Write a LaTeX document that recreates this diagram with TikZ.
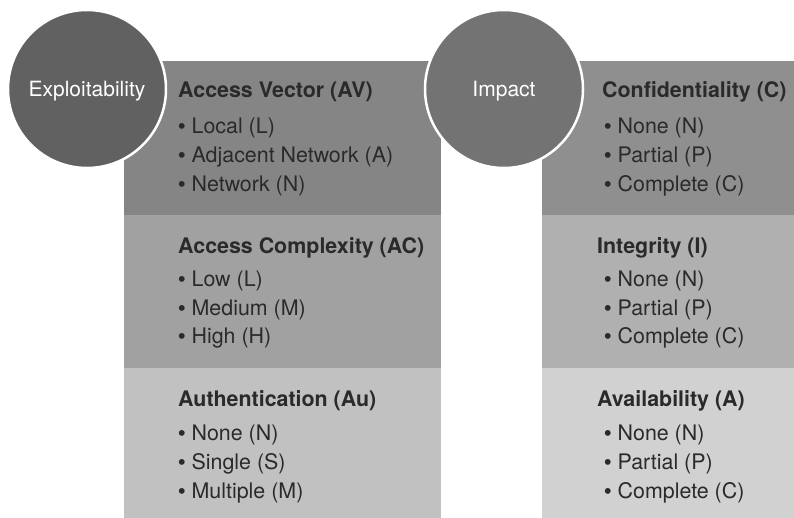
\documentclass[tikz,border=0pt]{standalone}
\usepackage{fontspec}
\setmainfont{TeX Gyre Heros}
\newfontfamily\bulfont{Liberation Sans}
\newcommand{\bul}{{\bulfont •}}
\definecolor{circL}{HTML}{616161}
\definecolor{circR}{HTML}{737373}
\definecolor{Lone}{HTML}{858585}
\definecolor{Ltwo}{HTML}{A1A1A1}
\definecolor{Lthree}{HTML}{C1C1C1}
\definecolor{Rone}{HTML}{8F8F8F}
\definecolor{Rtwo}{HTML}{B0B0B0}
\definecolor{Rthree}{HTML}{D1D1D1}
\definecolor{txt}{HTML}{2A2A2A}
\tikzset{
  ttl/.style={anchor=west,inner sep=0,text=txt,font=\fontsize{21.4}{25}\selectfont\bfseries},
  itm/.style={anchor=west,inner sep=0,text=txt,font=\fontsize{21.4}{25}\selectfont},
  bubble/.style={circle,draw=white,line width=2.5pt,minimum size=158pt,inner sep=0,fill=#1},
  bubtext/.style={text=white,inner sep=0,font=\fontsize{21}{25}\selectfont}
}
\begin{document}
\begin{tikzpicture}[x=1pt,y=-1pt]
\useasboundingbox (0,0) rectangle (794,518);
% left panel
\fill[Lone] (124,61) rectangle (441,215);
\fill[Ltwo] (124,215) rectangle (441,368);
\fill[Lthree] (124,368) rectangle (441,518);
% right panel
\fill[Rone] (542,61) rectangle (794,215);
\fill[Rtwo] (542,215) rectangle (794,368);
\fill[Rthree] (542,368) rectangle (794,518);
% left texts
\node[ttl] (av) at (178,92) {Access Vector (AV)};
\node[itm] (av1) at (178,128) {\bul{} Local (L)};
\node[itm] (av2) at (178,157) {\bul{} Adjacent Network (A)};
\node[itm] (av3) at (178,186) {\bul{} Network (N)};
\node[ttl] (ac) at (178,248) {Access Complexity (AC)};
\node[itm] (ac1) at (178,281) {\bul{} Low (L)};
\node[itm] (ac2) at (178,310) {\bul{} Medium (M)};
\node[itm] (ac3) at (178,338) {\bul{} High (H)};
\node[ttl] (au) at (178,401) {Authentication (Au)};
\node[itm] (au1) at (178,435) {\bul{} None (N)};
\node[itm] (au2) at (178,464) {\bul{} Single (S)};
\node[itm] (au3) at (178,493) {\bul{} Multiple (M)};
% right texts
\node[ttl] (c) at (602,92) {Confidentiality (C)};
\node[itm] (c1) at (604,128) {\bul{} None (N)};
\node[itm] (c2) at (604,157) {\bul{} Partial (P)};
\node[itm] (c3) at (604,186) {\bul{} Complete (C)};
\node[ttl] (i) at (597,248) {Integrity (I)};
\node[itm] (i1) at (604,281) {\bul{} None (N)};
\node[itm] (i2) at (604,310) {\bul{} Partial (P)};
\node[itm] (i3) at (604,338) {\bul{} Complete (C)};
\node[ttl] (a) at (597,401) {Availability (A)};
\node[itm] (a1) at (604,435) {\bul{} None (N)};
\node[itm] (a2) at (604,464) {\bul{} Partial (P)};
\node[itm] (a3) at (604,493) {\bul{} Complete (C)};
% circles
\node[bubble=circL] (expl) at (87,89) {};
\node[bubble=circR] (imp) at (504,89) {};
\node[bubtext] (explt) at ([yshift=-2pt]expl.center) {Exploitability};
\node[bubtext] (impt) at ([yshift=-2pt]imp.center) {Impact};
\end{tikzpicture}
\end{document}
